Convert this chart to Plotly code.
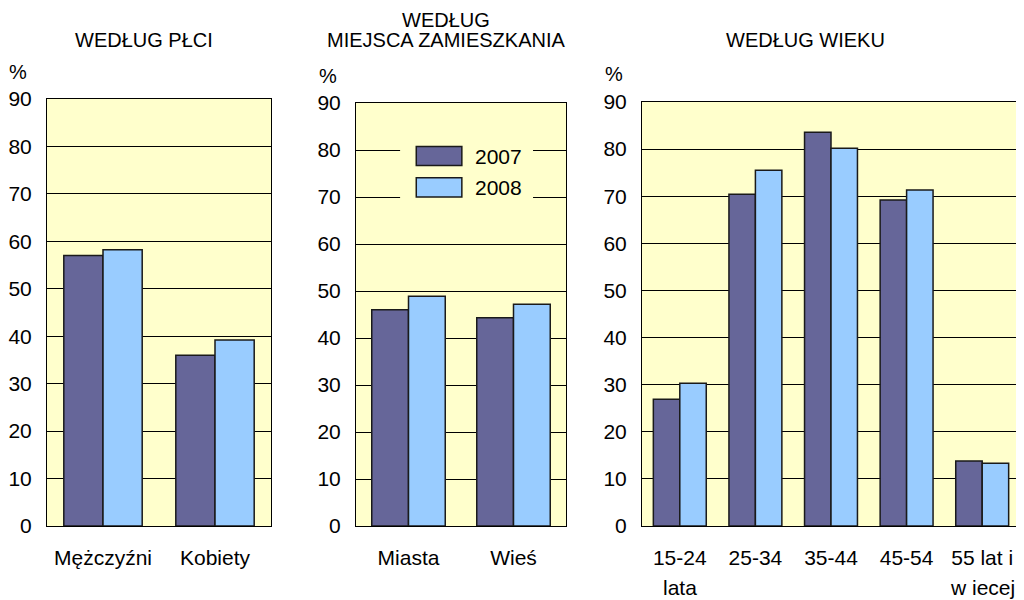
import plotly.graph_objects as go

series_names = ["2007", "2008"]
colors = ["#666699", "#99CCFF"]

cat_plec = ["Mężczyźni", "Kobiety"]
plec_2007 = [57.0, 36.0]
plec_2008 = [58.2, 39.2]

cat_miejsce = ["Miasta", "Wieś"]
miejsce_2007 = [46.0, 44.3]
miejsce_2008 = [48.9, 47.2]

cat_wiek = ["15-24", "25-34", "35-44", "45-54", "55 lat i"]
cat_wiek_line2 = ["lata", "", "", "", "w iecej"]
wiek_2007 = [26.9, 70.4, 83.6, 69.2, 13.8]
wiek_2008 = [30.3, 75.5, 80.2, 71.3, 13.3]

# each title as a list of lines
titles = [["WEDŁUG PŁCI"], ["WEDŁUG", "MIEJSCA ZAMIESZKANIA"], ["WEDŁUG WIEKU"]]
y_ticks = list(range(0, 100, 10))

# page has an 8px body margin: design in page pixels, convert to figure pixels
OFF = 8
W, H = 1024 - OFF, 600 - OFF
FONT = "Liberation Sans, Arial, sans-serif"


def px(x):
    return (x - OFF) / W


def py(y):
    return 1 - (y - OFF) / H


# panel pixel boxes on page (left, right, top, bottom)
boxes = [(47, 271, 99, 526), (356, 566, 103, 526), (642, 1020, 102, 526)]

fig = go.Figure()
panels = [
    (cat_plec, [plec_2007, plec_2008]),
    (cat_miejsce, [miejsce_2007, miejsce_2008]),
    (cat_wiek, [wiek_2007, wiek_2008]),
]
for i, (cats, vals) in enumerate(panels):
    ax = "" if i == 0 else str(i + 1)
    for s, v in enumerate(vals):
        fig.add_trace(go.Bar(
            x=cats, y=v, name=series_names[s],
            marker=dict(color=colors[s], line=dict(color="#1a1a1a", width=1.5)),
            xaxis="x" + ax, yaxis="y" + ax, showlegend=False,
        ))

layout = dict(
    width=W, height=H, margin=dict(l=0, r=0, t=0, b=0, pad=0, autoexpand=False),
    paper_bgcolor="white", plot_bgcolor="#FFFFCC",
    barmode="group", bargap=0.3, bargroupgap=0,
    font=dict(family=FONT, size=20, color="black"),
    showlegend=False,
)
for i, (l, r, t, b) in enumerate(boxes):
    ax = "" if i == 0 else str(i + 1)
    layout["xaxis" + ax] = dict(
        domain=[px(l), px(r)], anchor="y" + ax, automargin=False,
        showline=True, mirror=True, linecolor="black", linewidth=1,
        ticks="", tickfont=dict(size=21), ticklabelstandoff=13,
        showgrid=False, fixedrange=True,
    )
    layout["yaxis" + ax] = dict(
        domain=[py(b), py(t)], anchor="x" + ax, automargin=False,
        range=[0, 90], tickvals=y_ticks,
        showline=True, mirror=True, linecolor="black", linewidth=1,
        showgrid=True, gridcolor="black", gridwidth=1,
        zeroline=False, ticks="", ticklabelstandoff=10,
        tickfont=dict(size=21), fixedrange=True,
    )
fig.update_layout(**layout)

# second line of age labels
for c, t2 in zip(cat_wiek, cat_wiek_line2):
    if t2:
        fig.add_annotation(x=c, y=py(587), xref="x3", yref="paper", text=t2,
                           showarrow=False, xanchor="center", yanchor="middle",
                           font=dict(size=21), borderpad=0)

# titles and % labels
title_x = [144, 446, 805]
title_line_y = [40, 20]
pct_pos = [(18, 72), (328, 76), (614, 74)]
for i in range(3):
    lines = titles[i]
    ys = title_line_y[:1] if len(lines) == 1 else [title_line_y[1], title_line_y[0]]
    for line, yy in zip(lines, ys):
        fig.add_annotation(x=px(title_x[i]), y=py(yy),
                           xref="paper", yref="paper", text=line, showarrow=False,
                           font=dict(size=20), xanchor="center", yanchor="middle",
                           borderpad=0)
    fig.add_annotation(x=px(pct_pos[i][0]), y=py(pct_pos[i][1]),
                       xref="paper", yref="paper", text="%", showarrow=False,
                       font=dict(size=20), xanchor="center", yanchor="middle")

# legend inside panel 2
fig.add_shape(type="rect", xref="x2 domain", yref="y2 domain",
              x0=0.21, x1=0.843, y0=0.759, y1=0.917,
              fillcolor="#FFFFCC", line=dict(width=0), layer="above")
leg_y = [(0.852, 0.897), (0.778, 0.823)]
for s in range(2):
    fig.add_shape(type="rect", xref="x2 domain", yref="y2 domain",
                  x0=0.287, x1=0.504, y0=leg_y[s][0], y1=leg_y[s][1],
                  fillcolor=colors[s], line=dict(color="#1a1a1a", width=1.5),
                  layer="above")
    fig.add_annotation(x=0.555, y=(leg_y[s][0] + leg_y[s][1]) / 2,
                       xref="x2 domain", yref="y2 domain", text=series_names[s],
                       showarrow=False, xanchor="left", yanchor="middle",
                       font=dict(size=21))

fig.write_html("out.html")
